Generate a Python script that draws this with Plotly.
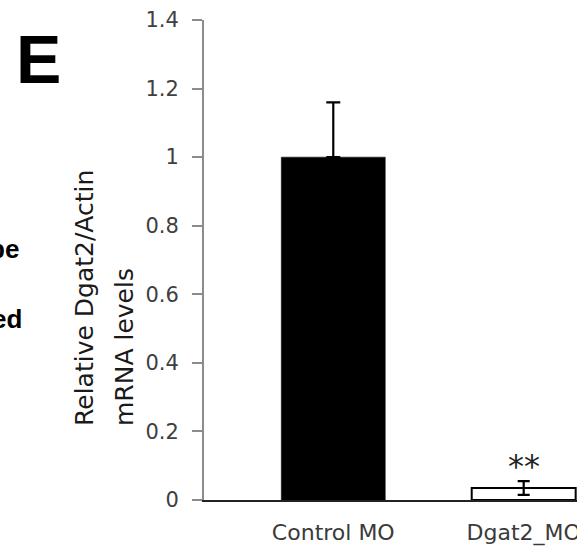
import plotly.graph_objects as go

categories = ["Control MO", "Dgat2_MO"]
values = [1.0, 0.035]
errors = [0.16, 0.02]
bar_fills = ["black", "white"]
y_ticks = [0, 0.2, 0.4, 0.6, 0.8, 1.0, 1.2, 1.4]
y_tick_labels = ["0", "0.2", "0.4", "0.6", "0.8", "1", "1.2", "1.4"]
significance = "**"

W, H = 577, 548
L, R, T, B = 204, 0, 20, 48
PW, PH = W - L - R, H - T - B

def xp(px):
    return (px - L) / PW

def yp(py):
    return (H - B - py) / PH

FONT = "DejaVu Sans"

fig = go.Figure()
cap_widths = [7, 6]
for i, cat in enumerate(categories):
    fig.add_trace(go.Bar(
        x=[cat], y=[values[i]], width=0.546,
        marker=dict(color=bar_fills[i], line=dict(color="black", width=2 if i == 1 else 0.5)),
        error_y=dict(type="data", array=[errors[i]], arrayminus=[0 if i == 0 else errors[i]],
                     color="black", thickness=2.2, width=cap_widths[i]),
        showlegend=False,
    ))

fig.add_annotation(x=categories[1], y=values[1] + errors[1] + 0.045, text=significance,
                   showarrow=False, font=dict(family=FONT, size=32, color="#222222"),
                   xref="x", yref="y")

# axis title (left-aligned two lines)
fig.add_annotation(x=xp(84), y=yp(428), xref="paper", yref="paper", text="Relative Dgat2/Actin",
                   textangle=-90, showarrow=False, xanchor="center", yanchor="bottom",
                   font=dict(family=FONT, size=25, color="#1a1a1a"))
fig.add_annotation(x=xp(124), y=yp(428), xref="paper", yref="paper", text="mRNA levels",
                   textangle=-90, showarrow=False, xanchor="center", yanchor="bottom",
                   font=dict(family=FONT, size=25, color="#1a1a1a"))

# panel letter and neighbouring-panel fragments
fig.add_annotation(x=xp(14), y=yp(59), xref="paper", yref="paper", text="<b>E</b>",
                   showarrow=False, xanchor="left", yanchor="middle",
                   font=dict(family="Liberation Sans", size=68, color="black"))
fig.add_annotation(x=xp(21), y=yp(249), xref="paper", yref="paper", text="<b>pe</b>",
                   showarrow=False, xanchor="right", yanchor="middle",
                   font=dict(family="Liberation Sans", size=26, color="black"))
fig.add_annotation(x=xp(24), y=yp(319), xref="paper", yref="paper", text="<b>ed</b>",
                   showarrow=False, xanchor="right", yanchor="middle",
                   font=dict(family="Liberation Sans", size=26, color="black"))

fig.update_layout(
    width=W, height=H,
    margin=dict(l=L, r=R, t=T, b=B, autoexpand=False),
    paper_bgcolor="white", plot_bgcolor="white",
    barmode="overlay",
    font=dict(family=FONT),
    xaxis=dict(
        type="category", range=[-0.679, 1.28],
        showline=True, linecolor="#222222", linewidth=1.6,
        ticks="", showgrid=False, zeroline=False,
        ticklabelstandoff=12,
        tickfont=dict(family=FONT, size=22, color="#3a3a3a"),
    ),
    yaxis=dict(
        range=[0, 1.4], tickvals=y_ticks, ticktext=y_tick_labels,
        showline=True, linecolor="#8c8c8c", linewidth=2,
        ticks="outside", ticklen=10, tickcolor="#8c8c8c", tickwidth=2,
        ticklabelstandoff=9,
        showgrid=False, zeroline=False,
        tickfont=dict(family=FONT, size=21, color="#404040"),
    ),
)

fig.write_html("out.html", config={"displayModeBar": False},
               post_script="document.body.style.margin='0';document.body.style.overflow='hidden';")
